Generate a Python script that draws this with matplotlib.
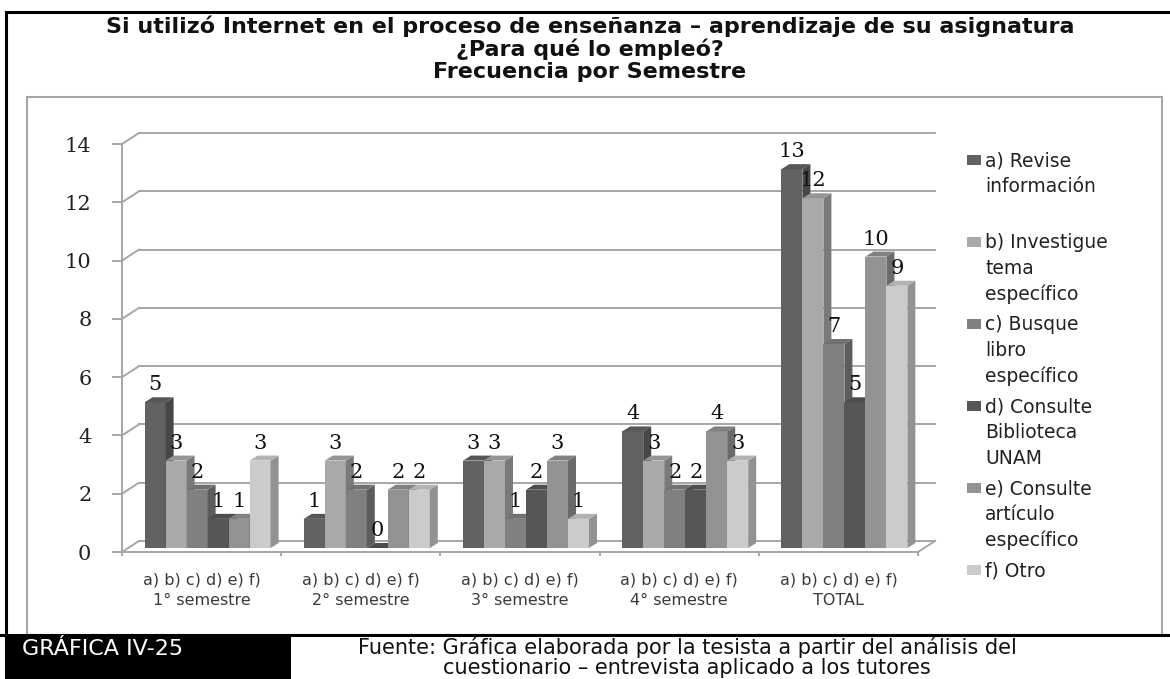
import numpy as np
import matplotlib
matplotlib.use("Agg")
from matplotlib import pyplot as plt
from matplotlib.patches import Rectangle, Polygon
from matplotlib import transforms

# Datos de la grafica
semestres = ["1° semestre", "2° semestre", "3° semestre", "4° semestre", "TOTAL"]
opciones = ["a) Revise\ninformación",
            "b) Investigue\ntema\nespecífico",
            "c) Busque\nlibro\nespecífico",
            "d) Consulte\nBiblioteca\nUNAM",
            "e) Consulte\nartículo\nespecífico",
            "f) Otro"]
revise = [5, 1, 3, 4, 13]
investigue = [3, 3, 3, 3, 12]
libro = [2, 2, 1, 2, 7]
biblioteca = [1, 0, 2, 2, 5]
articulo = [1, 2, 3, 4, 10]
otro = [3, 2, 1, 3, 9]
series = [revise, investigue, libro, biblioteca, articulo, otro]

titulo = ["Si utilizó Internet en el proceso de enseñanza – aprendizaje de su asignatura",
          "¿Para qué lo empleó?",
          "Frecuencia por Semestre"]
etiqueta_grafica = "GRÁFICA IV-25"
fuente = ["Fuente: Gráfica elaborada por la tesista a partir del análisis del",
          "cuestionario – entrevista aplicado a los tutores"]

colores = ["#626262", "#a9a9a9", "#808080", "#565656", "#939393", "#cbcbcb"]
gris = "#a6a6a6"

W, H = 1170, 679
fig = plt.figure(figsize=(W / 100, H / 100), dpi=100)


def fx(px):
    return px / W


def fy(py):
    return 1 - py / H


# marco exterior y caja gris
fig.add_artist(plt.Line2D([fx(6), fx(1170)], [fy(12), fy(12)], color="black", lw=2.2))
fig.add_artist(plt.Line2D([fx(6), fx(6)], [fy(12), fy(679)], color="black", lw=2.2))
fig.add_artist(Rectangle((fx(27), fy(635)), fx(1162) - fx(27), fy(97) - fy(635),
                         fill=False, edgecolor=gris, lw=1.5))
fig.add_artist(plt.Line2D([0, 1], [fy(635), fy(635)], color="black", lw=2.2))

# titulo
for k, linea in enumerate(titulo):
    fig.text(fx(590), fy(26 + 23 * k), linea, ha="center", va="center",
             fontsize=16, fontweight="bold", family="DejaVu Sans", color="#111111")

# ejes
ax = fig.add_axes([fx(122), fy(552), fx(918) - fx(122), fy(144) - fy(552)])
ax.set_xlim(-0.5, 4.5)
ax.set_ylim(0, 14)
for s in ["top", "right"]:
    ax.spines[s].set_visible(False)
for s in ["left", "bottom"]:
    ax.spines[s].set_color(gris)
    ax.spines[s].set_linewidth(1.4)

px_x = (918 - 122) / 5.0
px_y = (552 - 144) / 14.0

# pared del fondo (efecto 3D)
dxb = 17 / px_x
dyb = 11 / px_y
yt = np.arange(0, 15, 2)
for v in yt:
    ax.plot([-0.5 + dxb, 4.5 + dxb], [v + dyb, v + dyb], color=gris, lw=1.4, clip_on=False, zorder=1)
    ax.plot([-0.5, -0.5 + dxb], [v, v + dyb], color=gris, lw=1.4, clip_on=False, zorder=1)
ax.plot([4.5, 4.5 + dxb], [0, dyb], color=gris, lw=1.4, clip_on=False, zorder=1)

ax.set_yticks(yt)
ax.set_yticklabels([str(v) for v in yt], family="DejaVu Serif", fontsize=15, color="#222222")
ax.tick_params(axis="y", length=7, width=1.4, color=gris, pad=15)

x = np.arange(len(semestres))
ax.set_xticks(x)
ax.set_xticklabels(["a) b) c) d) e) f)\n" + s for s in semestres],
                   family="DejaVu Sans", fontsize=11.5, color="#3a3a3a")
for t in ax.get_xticklabels():
    t.set_linespacing(1.4)
ax.set_xticks(np.arange(-0.5, 5, 1), minor=True)
ax.tick_params(axis="x", which="major", length=0, pad=15)
ax.tick_params(axis="x", which="minor", length=3, width=1.4, color=gris)

# barras con cara lateral y superior
desplazado = ax.transData + transforms.ScaledTranslation(6 / 100, 4 / 100, fig.dpi_scale_trans)
etiqueta_tr = desplazado + transforms.ScaledTranslation(0, 12 / 100, fig.dpi_scale_trans)
w = 21 / px_x
ddx = 8 / px_x
ddy = 5 / px_y


def oscurecer(c, f):
    r, g, b = matplotlib.colors.to_rgb(c)
    return (r * f, g * f, b * f)


for j, vals in enumerate(series):
    xs = x + (j - 2.5) * w
    z = 3 + j
    ax.bar(xs, vals, width=w, color=colores[j], transform=desplazado, zorder=z, linewidth=0)
    for xc, v in zip(xs, vals):
        x0, x1 = xc - w / 2, xc + w / 2
        lado = Polygon([(x1, 0), (x1 + ddx, ddy), (x1 + ddx, v + ddy), (x1, v)],
                       closed=True, facecolor=oscurecer(colores[j], 0.72), linewidth=0,
                       transform=desplazado, zorder=z, clip_on=False)
        tapa = Polygon([(x0, v), (x1, v), (x1 + ddx, v + ddy), (x0 + ddx, v + ddy)],
                       closed=True, facecolor=oscurecer(colores[j], 0.88), linewidth=0,
                       transform=desplazado, zorder=z, clip_on=False)
        ax.add_patch(lado)
        ax.add_patch(tapa)
        ax.text(xc, v, str(v), transform=etiqueta_tr, ha="center", va="baseline",
                family="DejaVu Serif", fontsize=15, color="#111111", zorder=20, clip_on=False)

# leyenda
for k, (lab, c) in enumerate(zip(opciones, colores)):
    yc = 160 + 82 * k
    fig.add_artist(Rectangle((fx(967), fy(yc + 5)), fx(14), fy(0) - fy(10),
                             facecolor=c, edgecolor="none"))
    t = fig.text(fx(985), fy(yc - 8.5), lab, ha="left", va="top",
                 family="DejaVu Sans", fontsize=13.5, color="#222222")
    t.set_linespacing(1.44)

# pie
fig.add_artist(Rectangle((fx(6), 0), fx(291) - fx(6), fy(637), facecolor="black", edgecolor="none"))
fig.text(fx(22), fy(649), etiqueta_grafica, ha="left", va="center",
         family="DejaVu Sans", fontsize=16, color="white")
for k, linea in enumerate(fuente):
    fig.text(fx(687), fy(647 + 21 * k), linea, ha="center", va="center",
             family="DejaVu Sans", fontsize=15, color="#111111")

fig.savefig("out.png", dpi=100)
